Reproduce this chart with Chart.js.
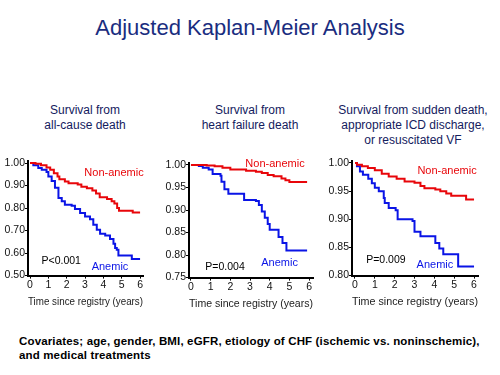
<!DOCTYPE html>
<html>
<head>
<meta charset="utf-8">
<script src="https://cdn.jsdelivr.net/npm/chart.js@4"></script>
<style>
  body { margin: 0; background: #fff; width: 500px; height: 375px; position: relative; overflow: hidden;
         font-family: "Liberation Sans", Arial, sans-serif; }
  .title { position: absolute; left: 0; width: 500px; top: 15px; text-align: center;
           font-size: 22px; color: #1a2d80; }
  .sub { position: absolute; text-align: center; font-size: 12px; line-height: 15px; color: #14205e; }
  .note { position: absolute; left: 19px; top: 334px; font-size: 11.5px; line-height: 14px; color: #000;
          font-weight: bold; letter-spacing: 0.15px; }
  canvas { position: absolute; }
</style>
</head>
<body>
<div class="title">Adjusted Kaplan-Meier Analysis</div>
<div class="sub" style="left:10px;width:150px;top:103px">Survival from<br>all-cause death</div>
<div class="sub" style="left:170px;width:160px;top:103px">Survival from<br>heart failure death</div>
<div class="sub" style="left:330px;width:166px;top:103px">Survival from sudden death,<br>appropriate ICD discharge,<br>or resuscitated VF</div>
<div class="note">Covariates; age, gender, BMI, eGFR, etiology of CHF (ischemic vs. noninschemic),<br>and medical treatments</div>

<canvas id="c1" style="left:0px;top:150px"></canvas>
<canvas id="c2" style="left:161px;top:152px"></canvas>
<canvas id="c3" style="left:324px;top:150px"></canvas>

<script>
// ---- data (years, cumulative survival) ----
const xTicks = [0, 1, 2, 3, 4, 5, 6];

// all-cause death
const allT_non = [0, 0.3, 0.6, 0.9, 1.1, 1.3, 1.5, 1.6, 1.9, 2.1, 2.6, 2.8, 3.1, 3.4, 3.6, 3.8, 4.2, 4.45, 4.6, 4.75, 4.85, 5.6, 6.0];
const allS_non = [1.00, 0.997, 0.99, 0.98, 0.97, 0.955, 0.94, 0.928, 0.918, 0.91, 0.905, 0.895, 0.888, 0.878, 0.865, 0.848, 0.84, 0.83, 0.82, 0.80, 0.788, 0.78, 0.78];
const allT_an = [0, 0.18, 0.45, 0.64, 0.9, 1.0, 1.18, 1.36, 1.55, 1.73, 1.9, 2.27, 2.45, 2.73, 3.0, 3.27, 3.45, 3.64, 3.82, 4.1, 4.36, 4.55, 4.64, 4.73, 4.82, 5.55, 6.0];
const allS_an = [1.00, 0.99, 0.978, 0.97, 0.96, 0.94, 0.92, 0.89, 0.845, 0.83, 0.815, 0.81, 0.796, 0.778, 0.763, 0.75, 0.726, 0.704, 0.686, 0.678, 0.663, 0.642, 0.623, 0.615, 0.589, 0.574, 0.574];
const allYTicks = [0.50, 0.60, 0.70, 0.80, 0.90, 1.00];

// heart failure death
const hfT_non = [0, 0.8, 1.2, 1.6, 2.0, 2.8, 3.3, 3.6, 3.9, 4.2, 4.6, 4.8, 5.0, 5.9];
const hfS_non = [1.00, 0.999, 0.997, 0.994, 0.99, 0.987, 0.985, 0.982, 0.978, 0.975, 0.97, 0.966, 0.962, 0.962];
const hfT_an = [0, 0.4, 0.6, 0.9, 1.1, 1.5, 1.55, 1.7, 1.9, 2.7, 3.3, 3.45, 3.6, 3.75, 3.9, 4.0, 4.45, 4.65, 4.85, 5.9];
const hfS_an = [1.00, 0.998, 0.994, 0.99, 0.98, 0.976, 0.963, 0.946, 0.936, 0.922, 0.92, 0.911, 0.897, 0.883, 0.869, 0.856, 0.84, 0.827, 0.81, 0.81];
const hfYTicks = [0.75, 0.80, 0.85, 0.90, 0.95, 1.00];

// sudden death / ICD discharge / resuscitated VF
const sdT_non = [0, 0.1, 0.35, 0.65, 1.0, 1.35, 1.7, 2.1, 2.5, 3.0, 3.3, 3.5, 4.05, 4.3, 4.6, 4.85, 5.6, 6.0];
const sdS_non = [1.00, 0.997, 0.994, 0.991, 0.987, 0.981, 0.976, 0.972, 0.967, 0.965, 0.959, 0.955, 0.953, 0.95, 0.946, 0.942, 0.935, 0.935];
const sdT_an = [0, 0.1, 0.25, 0.4, 0.67, 0.85, 1.0, 1.2, 1.45, 1.5, 1.7, 2.05, 2.15, 2.9, 3.0, 3.3, 4.05, 4.25, 4.45, 5.2, 6.0];
const sdS_an = [1.00, 0.994, 0.985, 0.979, 0.972, 0.964, 0.956, 0.95, 0.938, 0.929, 0.92, 0.916, 0.90, 0.897, 0.878, 0.87, 0.858, 0.848, 0.838, 0.816, 0.816];
const sdYTicks = [0.80, 0.85, 0.90, 0.95, 1.00];

const RED = '#e8060a', BLUE = '#0a14e6';
const FONT = '"Liberation Sans", Arial, sans-serif';

// text written inside the plot at data coordinates
const notesPlugin = {
  id: 'notes',
  afterDatasetsDraw(chart, args, opts) {
    const { ctx, scales: { x, y } } = chart;
    ctx.save();
    ctx.textAlign = 'center';
    ctx.textBaseline = 'middle';
    (opts.items || []).forEach(n => {
      ctx.font = n.size + 'px ' + FONT;
      ctx.fillStyle = n.color;
      ctx.fillText(n.text, x.getPixelForValue(n.x), y.getPixelForValue(n.y));
    });
    ctx.restore();
  }
};

const pts = (ts, ss) => ts.map((t, i) => ({ x: t, y: ss[i] }));

function makePanel(id, w, h, padRight, xMin, xMax, yTicks, yMax, non, an, notes) {
  const cv = document.getElementById(id);
  cv.width = w; cv.height = h;
  return new Chart(cv, {
    type: 'line',
    data: {
      datasets: [
        { data: non, borderColor: RED, borderWidth: 2, stepped: true, pointRadius: 0, fill: false },
        { data: an, borderColor: BLUE, borderWidth: 2, stepped: true, pointRadius: 0, fill: false }
      ]
    },
    options: {
      responsive: false,
      animation: false,
      layout: { padding: { top: 11, right: padRight, left: 0, bottom: 0 } },
      plugins: { legend: { display: false }, tooltip: { enabled: false }, notes: { items: notes } },
      scales: {
        x: {
          type: 'linear', min: xMin, max: xMax,
          afterBuildTicks: s => { s.ticks = xTicks.map(v => ({ value: v })); },
          grid: { display: true, drawOnChartArea: false, drawTicks: true, tickLength: 3, color: '#000' },
          border: { display: true, color: '#000', width: 2 },
          ticks: { color: '#111', padding: 0, font: { family: FONT, size: 10.5 } },
          title: { display: true, text: 'Time since registry (years)', color: '#222',
                   padding: { top: 4, bottom: 0 }, font: { family: FONT, size: 11.5 } }
        },
        y: {
          type: 'linear', min: yTicks[0], max: yMax,
          afterBuildTicks: s => { s.ticks = yTicks.map(v => ({ value: v })); },
          afterFit: s => { s.width = 28; },
          grid: { display: true, drawOnChartArea: false, drawTicks: true, tickLength: 3, color: '#000' },
          border: { display: true, color: '#000', width: 2 },
          ticks: { color: '#111', padding: 0, font: { family: FONT, size: 10.5 },
                   callback: v => Number(v).toFixed(2) }
        }
      }
    },
    plugins: [notesPlugin]
  });
}

makePanel('c1', 165, 159, 22, -0.11, 6.16, allYTicks, 1.009,
  pts(allT_non, allS_non), pts(allT_an, allS_an),
  [{ text: 'Non-anemic', x: 4.58, y: 0.956, color: RED, size: 11 },
   { text: 'Anemic', x: 4.36, y: 0.54, color: BLUE, size: 11 },
   { text: 'P<0.001', x: 1.7, y: 0.566, color: '#000', size: 10.5 }]);

makePanel('c2', 170, 159, 18, -0.1, 6.2, hfYTicks, 1.0044,
  pts(hfT_non, hfS_non), pts(hfT_an, hfS_an),
  [{ text: 'Non-anemic', x: 4.27, y: 1.002, color: RED, size: 11 },
   { text: 'Anemic', x: 4.5, y: 0.783, color: BLUE, size: 11 },
   { text: 'P=0.004', x: 1.73, y: 0.774, color: '#000', size: 10.5 }]);

makePanel('c3', 176, 159, 22, -0.15, 6.2, sdYTicks, 1.0035,
  pts(sdT_non, sdS_non), pts(sdT_an, sdS_an),
  [{ text: 'Non-anemic', x: 4.64, y: 0.986, color: RED, size: 11 },
   { text: 'Anemic', x: 4.03, y: 0.818, color: BLUE, size: 11 },
   { text: 'P=0.009', x: 1.56, y: 0.827, color: '#000', size: 10.5 }]);
</script>
</body>
</html>
